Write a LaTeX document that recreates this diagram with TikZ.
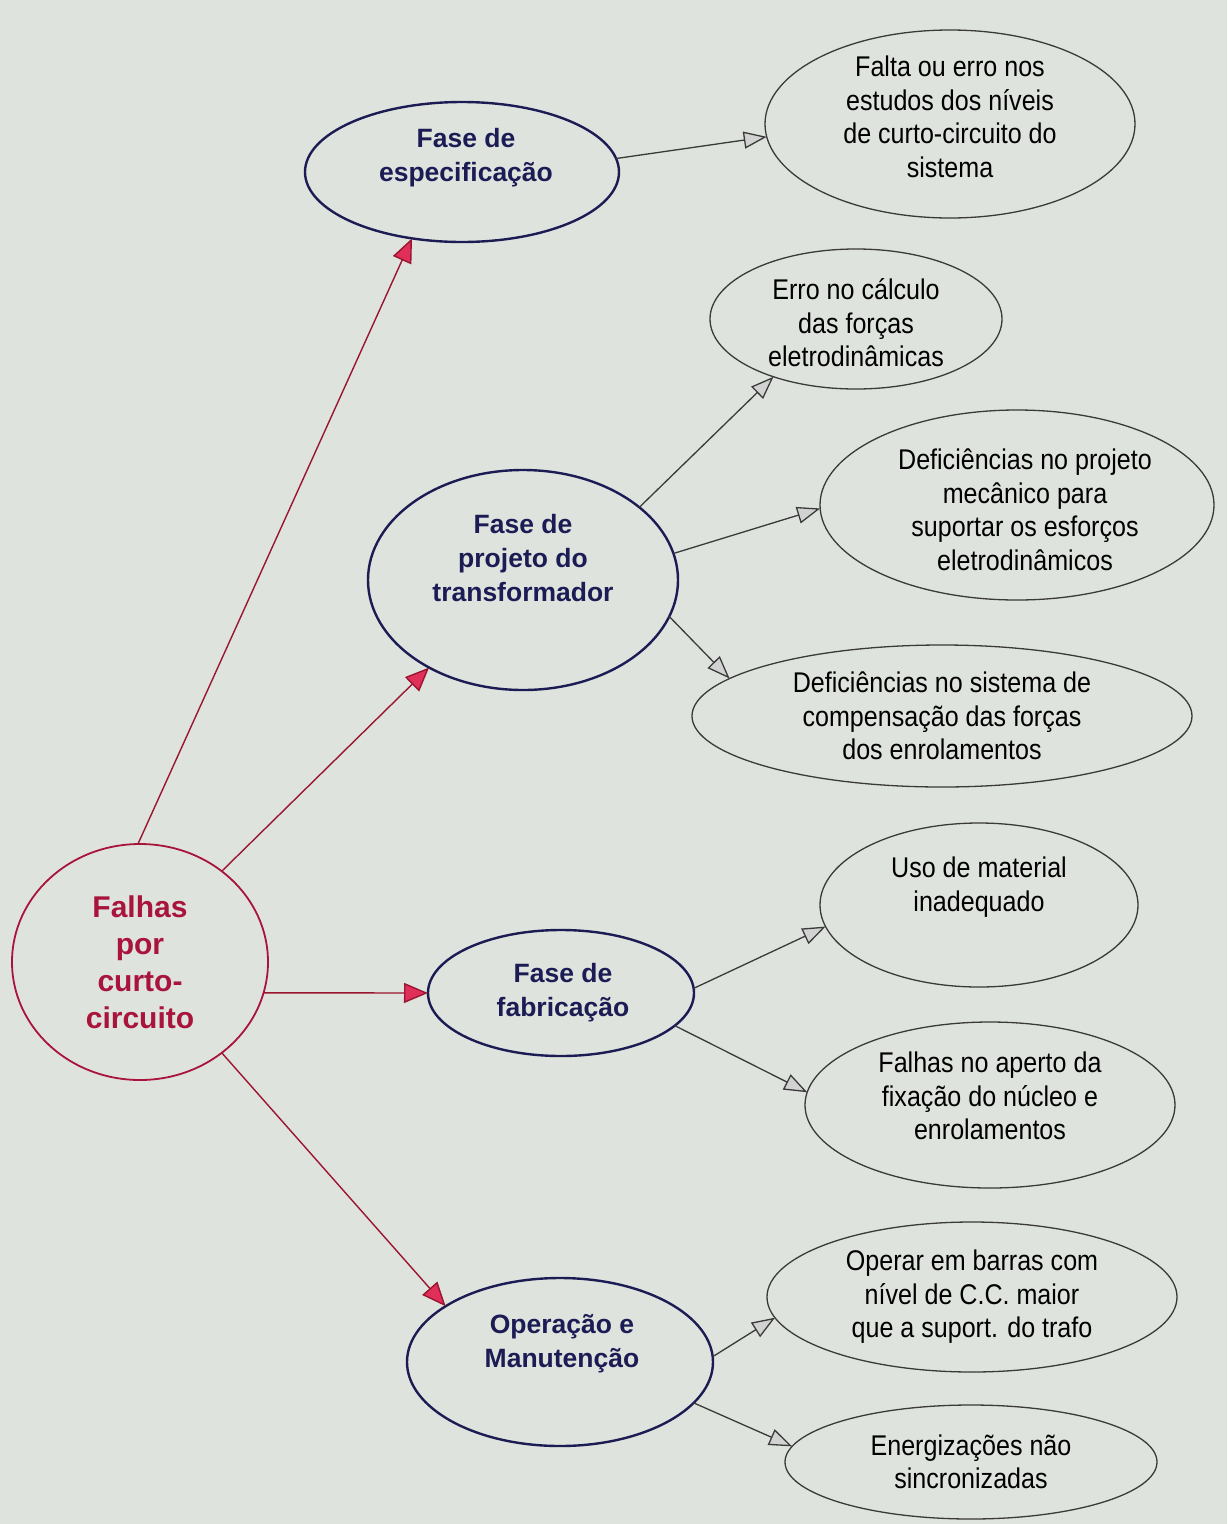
\documentclass[tikz,border=0pt]{standalone}
\usepackage{fontspec}
\setmainfont{Liberation Sans}
\newfontfamily\narrowsans[FakeStretch=0.88]{Liberation Sans}
\usetikzlibrary{shapes.geometric,arrows.meta}
\definecolor{paper}{HTML}{DFE3DD}
\definecolor{navy}{HTML}{1C1C55}
\definecolor{rootred}{HTML}{A8143C}
\definecolor{linered}{HTML}{9A1530}
\definecolor{tipred}{HTML}{E0305A}
\definecolor{leafline}{HTML}{3A3A3A}
\begin{document}
\begin{tikzpicture}[x=1pt,y=-1pt,
  ellbase/.style={ellipse, inner sep=0pt, outer sep=0pt},
  rootell/.style={ellbase, draw=rootred, line width=1.8pt},
  phaseell/.style={ellbase, draw=navy, line width=2.4pt},
  leafell/.style={ellbase, draw=leafline, line width=1.3pt},
  roottxt/.style={align=center, text=rootred, font=\fontsize{30}{37}\selectfont\bfseries},
  phasetxt/.style={align=center, text=navy, font=\fontsize{26.5}{34}\selectfont\bfseries},
  leaftxt/.style={align=center, text=black, font=\narrowsans\fontsize{28.5}{33.5}\selectfont},
  redarrow/.style={draw=linered, line width=1.4pt, -{Triangle[length=24pt,width=20pt,fill=tipred]}},
  grayarrow/.style={draw=leafline, line width=1.3pt, -{Triangle[length=23pt,width=17pt,fill=gray!35]}}
]
\fill[paper] (0,0) rectangle (1227,1524);
\useasboundingbox (0,0) rectangle (1227,1524);

% root
\node[rootell, minimum width=256pt, minimum height=236pt,
  label={[roottxt]center:{Falhas\\por\\curto-\\circuito}}] (root) at (140,962) {};

% phases
\node[phaseell, minimum width=314pt, minimum height=140pt,
  label={[phasetxt,yshift=14pt,xshift=4pt]center:{Fase de\\especificação}}] (esp) at (462,172) {};
\node[phaseell, minimum width=310pt, minimum height=220pt,
  label={[phasetxt,yshift=22pt]center:{Fase de\\projeto do\\transformador}}] (proj) at (523,580) {};
\node[phaseell, minimum width=266pt, minimum height=126pt,
  label={[phasetxt,xshift=2pt]center:{Fase de\\fabricação}}] (fab) at (561,993) {};
\node[phaseell, minimum width=306pt, minimum height=168pt,
  label={[phasetxt,yshift=18pt,xshift=2pt]center:{Operação e\\Manutenção}}] (oper) at (560,1362) {};

% leaves
\node[leafell, minimum width=370pt, minimum height=188pt,
  label={[leaftxt,yshift=7pt]center:{Falta ou erro nos\\estudos dos níveis\\de curto-circuito do\\sistema}}] (falta) at (950,124) {};
\node[leafell, minimum width=292pt, minimum height=140pt,
  label={[leaftxt,yshift=-4pt]center:{Erro no cálculo\\das forças\\eletrodinâmicas}}] (erro) at (856,319) {};
\node[leafell, minimum width=394pt, minimum height=190pt,
  label={[leaftxt,yshift=-5pt,xshift=8pt]center:{Deficiências no projeto\\mecânico para\\suportar os esforços\\eletrodinâmicos}}] (mec) at (1017,505) {};
\node[leafell, minimum width=500pt, minimum height=142pt,
  label={[leaftxt]center:{Deficiências no sistema de\\compensação das forças\\dos enrolamentos}}] (sist) at (942,716) {};
\node[leafell, minimum width=318pt, minimum height=164pt,
  label={[leaftxt,yshift=18pt]center:{Uso de material\\inadequado}}] (uso) at (979,905) {};
\node[leafell, minimum width=370pt, minimum height=166pt,
  label={[leaftxt,yshift=9pt]center:{Falhas no aperto da\\fixação do núcleo e\\enrolamentos}}] (aperto) at (990,1105) {};
\node[leafell, minimum width=410pt, minimum height=150pt,
  label={[leaftxt]center:{Operar em barras com\\nível de C.C. maior\\que a suport. do trafo}}] (barras) at (972,1297) {};
\node[leafell, minimum width=372pt, minimum height=114pt,
  label={[leaftxt]center:{Energizações não\\sincronizadas}}] (ener) at (971,1462) {};

% red arrows
\draw[redarrow] (root.91) -- (esp.233);
\draw[redarrow] (root.48) -- (proj.223);
\draw[redarrow] (root.-14) -- (fab.180);
\draw[redarrow] (root.-48) -- (oper.154);

% gray arrows
\draw[grayarrow] (esp.5) -- (falta.184);
\draw[grayarrow] (proj.32) -- (erro.215);
\draw[grayarrow] (proj.10) -- (mec.181);
\draw[grayarrow] (proj.-14) -- (sist.170);
\draw[grayarrow] (fab.2) -- (uso.188);
\draw[grayarrow] (fab.-16) -- (aperto.176);
\draw[grayarrow] (oper.2) -- (barras.186);
\draw[grayarrow] (oper.-17) -- (ener.175);
\end{tikzpicture}
\end{document}
